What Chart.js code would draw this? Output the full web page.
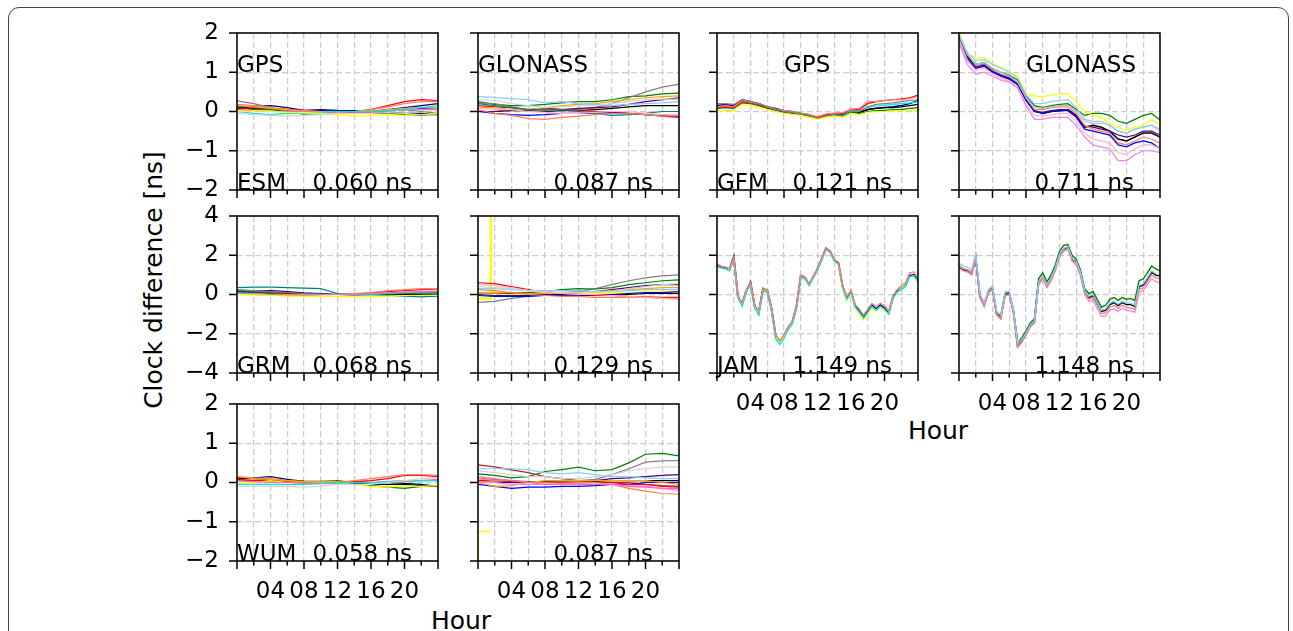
<!DOCTYPE html>
<html>
<head>
<meta charset="utf-8">
<script src="https://cdn.jsdelivr.net/npm/chart.js@4.4.1/dist/chart.umd.min.js"></script>
<style>
body { margin: 0; background: #fff; font-family: 'DejaVu Sans', sans-serif; }
#fig { position: relative; width: 1293px; height: 631px; overflow: hidden; background: #fff; }
#frame { position: absolute; left: 8px; top: 7px; width: 1279px; height: 680px; border: 1.5px solid #444; border-radius: 11px; }
canvas { position: absolute; }
.lbl { position: absolute; font-size: 25px; color: #000; white-space: nowrap; transform: translate(-50%, -50%); }
#ylab { left: 153px; top: 280px; transform: translate(-50%, -50%) rotate(-90deg); }
#xlab1 { left: 461px; top: 620px; }
#xlab2 { left: 938px; top: 430px; }
</style>
</head>
<body>
<div id="fig">
  <div id="frame"></div>
  <div class="lbl" id="ylab">Clock difference [ns]</div>
  <div class="lbl" id="xlab1">Hour</div>
  <div class="lbl" id="xlab2">Hour</div>
</div>
<script>
// hours of day
var hours2 = [0, 2, 4, 6, 8, 10, 12, 14, 16, 18, 20, 22, 24];
var hours1 = [0, 1, 2, 3, 4, 5, 6, 7, 8, 9, 10, 11, 12, 13, 14, 15, 16, 17, 18, 19, 20, 21, 22, 23, 24];
var hoursHalf = [0, 0.5, 1, 1.5, 2, 2.5, 3, 3.5, 4, 4.5, 5, 5.5, 6, 6.5, 7, 7.5, 8, 8.5, 9, 9.5, 10, 10.5, 11, 11.5,
  12, 12.5, 13, 13.5, 14, 14.5, 15, 15.5, 16, 16.5, 17, 17.5, 18, 18.5, 19, 19.5, 20, 20.5, 21, 21.5, 22, 22.5, 23, 23.5, 24];
var xTickLabels = ['04', '08', '12', '16', '20'];
var rmsLabels = ['0.060 ns', '0.087 ns', '0.121 ns', '0.711 ns', '0.068 ns', '0.129 ns', '1.149 ns', '1.148 ns', '0.058 ns', '0.087 ns'];

// ESM GPS
var esmGpsLightgray = [-0.05, -0.08, -0.1, -0.12, -0.1, -0.08, -0.05, -0.05, -0.05, -0.03, -0.05, -0.08, -0.1];
var esmGpsYellow = [0.0, 0.02, 0.0, -0.02, -0.03, -0.05, -0.08, -0.12, -0.1, -0.08, -0.1, -0.08, -0.05];
var esmGpsCyan = [0.0, -0.05, -0.08, -0.05, -0.05, -0.02, 0.0, 0.0, 0.0, 0.02, 0.05, 0.1, 0.15];
var esmGpsPink = [0.05, 0.02, 0.0, 0.0, 0.0, -0.03, -0.05, -0.05, -0.03, 0.0, 0.05, 0.05, 0.05];
var esmGpsOrange = [0.15, 0.12, 0.08, 0.05, 0.02, 0.0, 0.0, 0.0, 0.02, 0.05, 0.08, 0.1, 0.1];
var esmGpsSalmon = [0.18, 0.15, 0.1, 0.05, 0.0, 0.0, -0.02, 0.0, 0.05, 0.12, 0.2, 0.25, 0.25];
var esmGpsRed = [0.05, 0.1, 0.08, 0.05, 0.02, 0.0, -0.02, 0.0, 0.05, 0.15, 0.25, 0.3, 0.28];
var esmGpsGreen = [0.1, 0.05, 0.05, 0.0, 0.0, 0.0, -0.02, -0.05, -0.05, -0.05, -0.08, -0.1, -0.08];
var esmGpsGray = [0.27, 0.2, 0.1, 0.02, -0.08, -0.06, -0.05, -0.03, 0.0, 0.05, 0.05, 0.0, -0.05];
var esmGpsBlue = [0.1, 0.1, 0.08, 0.05, 0.03, 0.02, 0.0, -0.02, 0.0, 0.02, 0.05, 0.08, 0.1];
var esmGpsBlack = [0.08, 0.08, 0.07, 0.05, 0.02, 0.02, 0.0, -0.02, -0.03, -0.03, -0.05, -0.05, -0.08];
var esmGpsNavy = [0.12, 0.13, 0.15, 0.1, 0.03, 0.05, 0.03, 0.02, 0.0, 0.05, 0.1, 0.15, 0.2];

// ESM GLONASS
var esmGloLightgray = [0.3, 0.28, 0.2, 0.15, 0.1, 0.12, 0.15, 0.15, 0.2, 0.25, 0.3, 0.32, 0.3];
var esmGloSkyblue = [0.38, 0.36, 0.33, 0.3, 0.22, 0.25, 0.2, 0.18, 0.15, 0.18, 0.2, 0.22, 0.25];
var esmGloPink = [0.1, 0.05, 0.05, 0.0, -0.02, -0.05, -0.05, -0.02, 0.0, 0.0, -0.05, -0.08, -0.08];
var esmGloCoral = [0.05, -0.05, -0.1, -0.18, -0.2, -0.15, -0.12, -0.08, -0.05, -0.05, -0.08, -0.12, -0.1];
var esmGloTeal = [0.2, 0.15, 0.1, 0.05, 0.05, 0.05, 0.0, -0.05, -0.1, -0.08, -0.05, 0.0, 0.0];
var esmGloOrange = [0.1, 0.1, 0.05, 0.05, 0.1, 0.15, 0.18, 0.2, 0.25, 0.3, 0.35, 0.38, 0.4];
var esmGloBlue = [0.0, -0.05, -0.08, -0.1, -0.08, -0.05, -0.05, -0.05, -0.03, -0.05, -0.08, -0.1, -0.12];
var esmGloRed = [0.15, 0.12, 0.1, 0.05, 0.08, 0.05, 0.02, 0.0, -0.02, -0.05, -0.08, -0.12, -0.15];
var esmGloPurple = [0.0, 0.0, 0.05, 0.05, 0.08, 0.05, 0.08, 0.1, 0.12, 0.18, 0.25, 0.3, 0.35];
var esmGloGray = [0.22, 0.2, 0.12, 0.05, 0.03, 0.05, 0.05, 0.1, 0.2, 0.35, 0.5, 0.62, 0.7];
var esmGloBlack = [0.0, 0.0, 0.02, 0.03, 0.0, 0.02, 0.02, 0.05, 0.08, 0.12, 0.15, 0.15, 0.15];
var esmGloGreen = [0.25, 0.18, 0.15, 0.15, 0.18, 0.22, 0.25, 0.25, 0.3, 0.38, 0.4, 0.45, 0.47];

// GFM GPS
var gfmGpsYellow = [0.0, 0.02, 0.02, 0.18, 0.15, 0.1, 0.05, 0.0, -0.05, -0.08, -0.1, -0.15, -0.2, -0.15, -0.12, -0.15, -0.05, -0.08, -0.02, 0.0, 0.0, 0.02, 0.02, 0.03, 0.05];
var gfmGpsGray = [0.2, 0.2, 0.18, 0.3, 0.26, 0.2, 0.12, 0.06, 0.0, -0.03, -0.06, -0.1, -0.18, -0.12, -0.1, -0.12, 0.0, 0.0, 0.12, 0.18, 0.2, 0.22, 0.25, 0.28, 0.3];
var gfmGpsSalmon = [0.12, 0.15, 0.12, 0.28, 0.24, 0.2, 0.12, 0.06, 0.02, 0.0, -0.05, -0.08, -0.13, -0.06, -0.04, -0.03, 0.06, 0.08, 0.25, 0.25, 0.28, 0.3, 0.3, 0.33, 0.38];
var gfmGpsRed = [0.1, 0.12, 0.1, 0.25, 0.22, 0.18, 0.1, 0.05, 0.0, -0.02, -0.05, -0.1, -0.15, -0.08, -0.05, -0.05, 0.05, 0.05, 0.2, 0.25, 0.28, 0.3, 0.32, 0.35, 0.42];
var gfmGpsCyan = [0.1, 0.14, 0.12, 0.26, 0.22, 0.18, 0.12, 0.06, 0.02, 0.0, -0.04, -0.08, -0.14, -0.08, -0.06, -0.06, 0.02, 0.02, 0.1, 0.14, 0.16, 0.18, 0.2, 0.22, 0.25];
var gfmGpsGreen = [0.08, 0.1, 0.08, 0.22, 0.2, 0.15, 0.08, 0.03, -0.02, -0.05, -0.08, -0.12, -0.18, -0.1, -0.08, -0.1, -0.02, -0.05, 0.0, 0.02, 0.03, 0.05, 0.05, 0.08, 0.1];
var gfmGpsBlack = [0.12, 0.15, 0.12, 0.27, 0.22, 0.17, 0.1, 0.05, 0.0, -0.03, -0.06, -0.1, -0.17, -0.1, -0.08, -0.08, 0.0, -0.02, 0.05, 0.08, 0.1, 0.1, 0.12, 0.15, 0.18];
var gfmGpsNavy = [0.15, 0.18, 0.15, 0.3, 0.25, 0.2, 0.12, 0.08, 0.02, 0.0, -0.05, -0.08, -0.15, -0.1, -0.08, -0.1, 0.0, -0.02, 0.05, 0.08, 0.1, 0.12, 0.15, 0.2, 0.28];

// GFM GLONASS
var gfmGloViolet = [1.75, 1.2, 0.95, 1.0, 0.9, 0.8, 0.75, 0.6, 0.15, -0.2, -0.2, -0.15, -0.15, -0.15, -0.35, -0.65, -0.85, -0.9, -0.95, -1.25, -1.25, -1.1, -1.0, -1.0, -1.05];
var gfmGloPink = [1.85, 1.3, 1.05, 1.1, 0.95, 0.85, 0.78, 0.62, 0.2, -0.1, -0.12, -0.08, -0.05, -0.05, -0.25, -0.55, -0.7, -0.75, -0.8, -1.05, -1.1, -0.95, -0.85, -0.85, -0.95];
var gfmGloSkyblue = [1.95, 1.5, 1.3, 1.32, 1.2, 1.1, 1.0, 0.85, 0.42, 0.2, 0.2, 0.25, 0.28, 0.3, 0.1, -0.2, -0.25, -0.25, -0.35, -0.5, -0.55, -0.45, -0.4, -0.35, -0.5];
var gfmGloGray = [1.95, 1.45, 1.2, 1.25, 1.1, 1.0, 0.9, 0.75, 0.35, 0.1, 0.08, 0.12, 0.15, 0.15, 0.0, -0.25, -0.3, -0.3, -0.35, -0.5, -0.55, -0.45, -0.4, -0.35, -0.45];
var gfmGloBlue = [1.9, 1.35, 1.12, 1.18, 1.02, 0.92, 0.85, 0.7, 0.3, 0.0, -0.05, 0.0, 0.02, 0.02, -0.15, -0.45, -0.5, -0.55, -0.6, -0.85, -0.9, -0.8, -0.75, -0.8, -0.95];
var gfmGloSalmon = [1.9, 1.35, 1.15, 1.2, 1.05, 0.95, 0.88, 0.72, 0.32, 0.05, 0.05, 0.1, 0.12, 0.12, -0.05, -0.35, -0.45, -0.5, -0.55, -0.8, -0.85, -0.75, -0.65, -0.7, -0.8];
var gfmGloIndigo = [1.85, 1.3, 1.1, 1.15, 1.0, 0.9, 0.82, 0.68, 0.28, 0.0, -0.02, 0.02, 0.05, 0.05, -0.12, -0.38, -0.4, -0.45, -0.5, -0.6, -0.65, -0.6, -0.5, -0.5, -0.6];
var gfmGloYellow = [2.0, 1.5, 1.35, 1.38, 1.22, 1.12, 1.02, 0.9, 0.45, 0.4, 0.38, 0.42, 0.45, 0.45, 0.25, 0.0, -0.1, -0.15, -0.3, -0.4, -0.48, -0.4, -0.35, -0.2, -0.35];
var gfmGloGreen = [2.0, 1.45, 1.2, 1.25, 1.1, 1.0, 0.92, 0.8, 0.4, 0.15, 0.1, 0.15, 0.18, 0.2, 0.05, -0.1, -0.05, -0.05, -0.1, -0.25, -0.3, -0.2, -0.1, -0.05, -0.22];
var gfmGloBlack = [1.95, 1.4, 1.15, 1.2, 1.05, 0.92, 0.85, 0.7, 0.3, 0.02, -0.05, 0.0, 0.02, 0.05, -0.1, -0.4, -0.35, -0.4, -0.5, -0.7, -0.75, -0.65, -0.55, -0.55, -0.65];

// GRM GPS
var grmGpsYellow = [0.0, -0.02, -0.05, -0.08, -0.1, -0.1, -0.1, -0.12, -0.1, -0.08, -0.05, -0.05, -0.05];
var grmGpsPink = [0.02, 0.0, -0.05, -0.05, -0.05, -0.02, 0.0, 0.0, 0.05, 0.1, 0.12, 0.15, 0.18];
var grmGpsCyan = [0.1, 0.05, 0.0, -0.05, -0.05, 0.0, 0.0, 0.0, 0.02, 0.05, 0.1, 0.12, 0.15];
var grmGpsSalmon = [0.05, 0.05, 0.0, 0.0, 0.0, 0.0, 0.0, 0.05, 0.1, 0.2, 0.25, 0.3, 0.3];
var grmGpsRed = [0.05, 0.08, 0.05, 0.02, 0.0, 0.0, 0.0, 0.02, 0.08, 0.15, 0.2, 0.25, 0.28];
var grmGpsGray = [0.25, 0.2, 0.15, 0.1, 0.05, 0.02, 0.0, -0.02, 0.0, 0.05, 0.1, 0.12, 0.15];
var grmGpsGreen = [0.2, 0.15, 0.12, 0.1, 0.05, 0.0, 0.0, -0.02, 0.0, 0.02, 0.05, 0.08, 0.1];
var grmGpsBlack = [0.1, 0.1, 0.08, 0.05, 0.03, 0.02, 0.0, 0.0, 0.0, 0.0, 0.0, -0.02, -0.03];
var grmGpsTeal = [0.35, 0.38, 0.38, 0.35, 0.32, 0.3, 0.05, 0.0, -0.02, -0.05, -0.08, -0.12, -0.08];
var grmGpsNavy = [0.15, 0.18, 0.2, 0.15, 0.08, 0.05, 0.0, 0.0, 0.02, 0.05, 0.08, 0.1, 0.08];

// GRM GLONASS
var grmGloLightgray = [0.4, 0.35, 0.3, 0.2, 0.15, 0.1, 0.1, 0.1, 0.15, 0.3, 0.4, 0.5, 0.55];
var grmGloSkyblue = [0.3, 0.3, 0.25, 0.2, 0.2, 0.2, 0.2, 0.15, 0.15, 0.2, 0.25, 0.25, 0.25];
var grmGloSalmon = [0.5, 0.45, 0.35, 0.2, 0.1, 0.05, 0.0, 0.0, -0.05, -0.1, -0.15, -0.2, -0.25];
var grmGloCoral = [0.25, 0.2, 0.1, 0.0, -0.05, -0.1, -0.1, -0.15, -0.15, -0.15, -0.15, -0.2, -0.2];
var grmGloOrange = [0.1, 0.1, 0.1, 0.05, 0.05, 0.1, 0.1, 0.15, 0.2, 0.25, 0.3, 0.35, 0.35];
var grmGloBlue = [-0.05, -0.1, -0.1, -0.1, -0.05, -0.05, -0.05, 0.0, 0.0, 0.05, 0.1, 0.1, 0.15];
var grmGloRed = [0.6, 0.55, 0.4, 0.25, 0.1, 0.05, 0.0, -0.05, -0.05, -0.1, -0.12, -0.15, -0.15];
var grmGloPurple = [0.0, -0.05, -0.05, -0.05, 0.0, 0.05, 0.1, 0.15, 0.25, 0.35, 0.45, 0.5, 0.5];
var grmGloGreen = [0.1, 0.1, 0.1, 0.1, 0.15, 0.25, 0.3, 0.28, 0.35, 0.5, 0.6, 0.7, 0.75];
var grmGloGray = [-0.4, -0.35, -0.2, -0.1, 0.0, 0.1, 0.15, 0.3, 0.5, 0.7, 0.85, 0.95, 1.0];
var grmGloBlack = [0.1, 0.1, 0.05, 0.05, 0.0, 0.0, -0.05, -0.05, 0.0, 0.0, 0.05, 0.05, 0.05];
var grmGloSpikeHours = [0, 1.45, 1.5, 1.55, 2, 4, 6, 8, 10, 12, 14, 16, 18, 20, 22, 24];
var grmGloSpike = [-0.2, -0.2, 6, 0.1, 0.1, 0.05, 0.0, 0.0, 0.05, 0.05, 0.0, 0.05, 0.05, 0.1, 0.1, 0.1];

// JAM GPS
var jamGpsSalmon = [1.55, 1.45, 1.4, 1.3, 1.85, -0.05, -0.45, 0.25, 0.6, -0.55, -0.85, 0.3, 0.25, -0.65, -2.05, -2.35, -2.05, -1.65, -1.35, -0.55, 1.0, 0.9, 0.55, 0.95,
  1.35, 1.85, 2.35, 2.2, 1.8, 1.65, 0.45, -0.1, 0.2, -0.5, -0.75, -1.05, -0.75, -0.45, -0.6, -0.45, -0.55, -0.85, -0.05, 0.25, 0.45, 0.6, 1.1, 1.15, 0.85];
var jamGpsCyan = [1.4, 1.35, 1.3, 1.2, 1.8, -0.2, -0.6, 0.1, 0.5, -0.7, -1.05, 0.2, 0.1, -0.8, -2.25, -2.55, -2.25, -1.8, -1.5, -0.7, 0.9, 0.8, 0.45, 0.85,
  1.25, 1.75, 2.3, 2.15, 1.7, 1.55, 0.35, -0.25, 0.1, -0.65, -0.9, -1.2, -0.9, -0.6, -0.8, -0.6, -0.75, -1.0, -0.2, 0.1, 0.25, 0.4, 0.9, 0.95, 0.65];
var jamGpsYellow = [1.45, 1.35, 1.3, 1.25, 1.85, -0.15, -0.55, 0.15, 0.55, -0.65, -0.95, 0.25, 0.15, -0.75, -2.15, -2.45, -2.15, -1.75, -1.45, -0.65, 0.9, 0.8, 0.45, 0.85,
  1.25, 1.75, 2.3, 2.15, 1.7, 1.5, 0.3, -0.3, 0.05, -0.7, -1.0, -1.3, -1.0, -0.7, -0.85, -0.65, -0.8, -1.0, -0.2, 0.1, 0.3, 0.45, 0.9, 0.95, 0.6];
var jamGpsNavy = [1.48, 1.4, 1.35, 1.28, 1.9, -0.1, -0.5, 0.2, 0.6, -0.6, -0.9, 0.3, 0.2, -0.7, -2.1, -2.4, -2.1, -1.7, -1.4, -0.6, 0.95, 0.85, 0.5, 0.9,
  1.3, 1.8, 2.35, 2.2, 1.75, 1.6, 0.4, -0.2, 0.15, -0.6, -0.85, -1.15, -0.85, -0.55, -0.75, -0.55, -0.7, -0.95, -0.15, 0.15, 0.3, 0.45, 0.95, 1.0, 0.7];

// JAM GLONASS
var jamGloSkyblue = [1.6, 1.45, 1.4, 1.25, 2.1, 0.05, -0.4, 0.25, 0.45, -0.85, -1.05, 0.15, 0.15, -0.75, -2.5, -2.3, -1.95, -1.55, -1.35, 0.65, 0.95, 0.5, 0.85, 1.35,
  2.05, 2.35, 2.45, 1.85, 1.7, 1.15, 0.2, -0.1, 0.0, -0.4, -0.8, -0.75, -0.45, -0.35, -0.5, -0.35, -0.45, -0.45, -0.55, 0.45, 0.55, 0.85, 1.2, 1.05, 1.0];
var jamGloSalmon = [1.45, 1.3, 1.25, 1.1, 1.85, -0.1, -0.5, 0.1, 0.3, -1.0, -1.25, -0.05, 0.0, -0.9, -2.7, -2.45, -2.05, -1.65, -1.45, 0.55, 0.85, 0.4, 0.75, 1.25,
  1.95, 2.25, 2.35, 1.75, 1.6, 1.05, 0.1, -0.25, -0.15, -0.55, -0.95, -0.95, -0.65, -0.55, -0.7, -0.55, -0.65, -0.7, -0.75, 0.25, 0.35, 0.65, 1.0, 0.85, 0.8];
var jamGloViolet = [1.35, 1.2, 1.15, 1.0, 1.8, -0.15, -0.6, 0.05, 0.25, -1.05, -1.25, -0.05, 0.0, -0.9, -2.65, -2.4, -2.05, -1.65, -1.45, 0.5, 0.8, 0.35, 0.7, 1.2,
  1.9, 2.2, 2.3, 1.7, 1.5, 0.95, 0.0, -0.35, -0.3, -0.7, -1.1, -1.1, -0.8, -0.75, -0.85, -0.7, -0.8, -0.85, -0.9, 0.1, 0.2, 0.5, 0.8, 0.65, 0.6];
var jamGloGreen = [1.45, 1.3, 1.25, 1.1, 1.9, -0.05, -0.5, 0.15, 0.35, -0.95, -1.15, 0.05, 0.1, -0.8, -2.5, -2.2, -1.85, -1.45, -1.25, 0.8, 1.1, 0.65, 1.0, 1.5,
  2.2, 2.5, 2.55, 2.0, 1.8, 1.25, 0.3, 0.05, 0.15, -0.25, -0.65, -0.55, -0.25, -0.15, -0.3, -0.15, -0.25, -0.2, -0.3, 0.7, 0.8, 1.1, 1.45, 1.3, 1.2];
var jamGloBlack = [1.4, 1.25, 1.2, 1.05, 1.85, -0.1, -0.55, 0.1, 0.3, -1.0, -1.1, 0.0, 0.05, -0.85, -2.6, -2.35, -2.0, -1.6, -1.4, 0.6, 0.9, 0.45, 0.8, 1.3,
  2.0, 2.3, 2.4, 1.8, 1.65, 1.1, 0.15, -0.15, -0.05, -0.45, -0.85, -0.8, -0.5, -0.4, -0.55, -0.4, -0.5, -0.5, -0.6, 0.4, 0.5, 0.8, 1.15, 1.0, 0.95];

// WUM GPS
var wumGpsGray = [-0.1, -0.1, -0.1, -0.1, -0.12, -0.1, -0.05, -0.05, -0.05, 0.0, 0.05, 0.1, 0.12];
var wumGpsCyan = [-0.05, -0.05, -0.05, -0.05, -0.05, -0.03, 0.0, 0.0, 0.0, 0.02, 0.05, 0.05, 0.05];
var wumGpsPink = [0.05, 0.02, 0.0, 0.0, -0.02, -0.03, -0.02, 0.0, 0.0, 0.02, 0.05, 0.05, 0.08];
var wumGpsOrange = [0.15, 0.1, 0.08, 0.05, 0.02, 0.02, 0.02, 0.0, 0.0, 0.0, 0.02, 0.05, 0.05];
var wumGpsYellow = [0.0, 0.0, 0.05, 0.0, -0.02, -0.02, -0.03, -0.05, -0.1, -0.12, -0.08, -0.1, -0.08];
var wumGpsSalmon = [0.15, 0.12, 0.1, 0.05, 0.02, 0.0, 0.0, 0.05, 0.1, 0.15, 0.2, 0.2, 0.18];
var wumGpsRed = [0.08, 0.05, 0.05, 0.02, 0.02, 0.0, 0.0, 0.02, 0.05, 0.1, 0.18, 0.18, 0.15];
var wumGpsGreen = [0.05, 0.05, 0.05, 0.02, 0.0, 0.02, 0.05, 0.0, -0.08, -0.12, -0.15, -0.1, -0.08];
var wumGpsBlack = [0.1, 0.1, 0.08, 0.05, 0.03, 0.02, 0.0, -0.02, -0.05, -0.05, -0.05, -0.08, -0.1];
var wumGpsNavy = [0.12, 0.12, 0.15, 0.08, 0.03, 0.03, 0.02, 0.02, 0.0, 0.0, -0.02, -0.05, -0.1];

// WUM GLONASS
var wumGloSilver = [0.3, 0.25, 0.2, 0.15, 0.15, 0.1, 0.1, 0.15, 0.2, 0.3, 0.35, 0.4, 0.4];
var wumGloSkyblue = [0.35, 0.35, 0.35, 0.32, 0.25, 0.22, 0.25, 0.2, 0.15, 0.15, 0.12, 0.1, 0.1];
var wumGloPink = [0.15, 0.1, 0.05, 0.0, -0.05, -0.05, -0.05, -0.05, -0.05, -0.1, -0.12, -0.15, -0.15];
var wumGloViolet = [0.0, 0.0, -0.05, -0.05, -0.05, -0.05, -0.02, -0.05, -0.05, -0.08, -0.1, -0.15, -0.2];
var wumGloCoral = [0.1, 0.05, 0.05, 0.0, 0.0, -0.02, 0.0, 0.0, -0.05, -0.15, -0.22, -0.28, -0.3];
var wumGloOrange = [0.0, -0.1, -0.08, 0.0, 0.05, 0.05, 0.05, 0.05, 0.05, 0.05, 0.05, 0.0, -0.05];
var wumGloRed = [0.05, 0.05, 0.05, 0.0, 0.0, 0.0, 0.0, 0.0, 0.0, -0.05, -0.05, -0.1, -0.12];
var wumGloBlue = [-0.05, -0.1, -0.15, -0.12, -0.12, -0.1, -0.1, -0.08, -0.05, -0.05, 0.0, 0.0, 0.0];
var wumGloDarkred = [0.45, 0.4, 0.32, 0.25, 0.15, 0.1, 0.05, 0.0, 0.0, 0.0, -0.05, -0.08, -0.1];
var wumGloPurple = [0.0, 0.0, 0.0, 0.0, 0.02, 0.05, 0.05, 0.05, 0.1, 0.12, 0.15, 0.18, 0.2];
var wumGloGray = [0.1, 0.08, 0.05, 0.02, 0.0, 0.02, 0.05, 0.08, 0.2, 0.35, 0.52, 0.55, 0.56];
var wumGloBlack = [0.05, 0.05, 0.03, 0.02, 0.03, 0.05, 0.05, 0.03, 0.05, 0.05, 0.05, 0.05, 0.05];
var wumGloGreen = [0.22, 0.18, 0.12, 0.15, 0.28, 0.33, 0.39, 0.3, 0.33, 0.5, 0.72, 0.74, 0.68];
var wumGloYellowHours = [0, 0.05, 1.5];
var wumGloYellow = [-1.95, -1.25, -1.25];

function line(hours, vals, color, width) {
  return {
    data: hours.map(function(h, i) { return { x: h, y: vals[i] }; }),
    borderColor: color,
    borderWidth: width || 1.2,
    pointRadius: 0,
    tension: 0,
    fill: false
  };
}

// axes frame, outward ticks and the in-panel notes
var framePlugin = {
  id: 'frame',
  afterDatasetsDraw: function(chart, args, opts) {
    var ctx = chart.ctx, a = chart.chartArea, xs = chart.scales.x, ys = chart.scales.y;
    ctx.save();
    ctx.strokeStyle = '#000';
    ctx.lineWidth = 1.5;
    ctx.beginPath();
    xs.ticks.forEach(function(t) {
      var px = xs.getPixelForValue(t.value);
      var len = t.value % 4 === 0 ? 8 : 4.5;
      ctx.moveTo(px, a.bottom);
      ctx.lineTo(px, a.bottom + len);
    });
    ys.ticks.forEach(function(t) {
      var py = ys.getPixelForValue(t.value);
      ctx.moveTo(a.left - 8, py);
      ctx.lineTo(a.left, py);
    });
    ctx.stroke();
    ctx.strokeRect(a.left, a.top, a.right - a.left, a.bottom - a.top);
    ctx.fillStyle = '#000';
    ctx.font = "23px 'DejaVu Sans'";
    ctx.textBaseline = 'alphabetic';
    ctx.textAlign = 'left';
    (opts.notes || []).forEach(function(n) {
      ctx.fillText(n.text, xs.getPixelForValue(n.x), ys.getPixelForValue(n.y));
    });
    ctx.restore();
  }
};

var C = {
  red: '#ff0000', navy: '#000080', salmon: '#fa8072', cyan: '#00e5ee', green: '#008000', yellow: '#ffff00',
  gray: '#808080', black: '#000000', orange: '#ffa500', lightgray: '#d3d3d3', pink: '#ff69b4', blue: '#0000ff',
  skyblue: '#87cefa', coral: '#ff7f50', purple: '#800080', indigo: '#4b0082', teal: '#008080', darkred: '#a52a2a',
  violet: '#ee82ee', silver: '#c0c0c0', lightpink: '#ffb6c1'
};

var colX = [237, 478, 717, 959];
var rowY = [33, 216, 404];
var panelW = 201, panelH = 157;

var panels = [
  { col: 0, row: 0, yMin: -2, yMax: 2, step: 1, showY: true, showX: false,
    notes: [{ text: 'GPS', x: 0, y: 1 }, { text: 'ESM', x: 0, y: -2 }, { text: rmsLabels[0], x: 9, y: -2 }],
    sets: [line(hours2, esmGpsLightgray, C.lightgray), line(hours2, esmGpsYellow, C.yellow), line(hours2, esmGpsCyan, C.cyan),
      line(hours2, esmGpsPink, C.pink), line(hours2, esmGpsOrange, C.orange), line(hours2, esmGpsSalmon, C.salmon),
      line(hours2, esmGpsRed, C.red), line(hours2, esmGpsGreen, C.green), line(hours2, esmGpsGray, C.gray),
      line(hours2, esmGpsBlue, C.blue), line(hours2, esmGpsBlack, C.black), line(hours2, esmGpsNavy, C.navy)] },
  { col: 1, row: 0, yMin: -2, yMax: 2, step: 1, showY: false, showX: false,
    notes: [{ text: 'GLONASS', x: 0, y: 1 }, { text: rmsLabels[1], x: 9, y: -2 }],
    sets: [line(hours2, esmGloLightgray, C.lightgray), line(hours2, esmGloSkyblue, C.skyblue), line(hours2, esmGloPink, C.lightpink),
      line(hours2, esmGloCoral, C.coral), line(hours2, esmGloTeal, C.teal), line(hours2, esmGloOrange, C.orange),
      line(hours2, esmGloBlue, C.blue), line(hours2, esmGloRed, C.red), line(hours2, esmGloPurple, C.indigo),
      line(hours2, esmGloGray, C.gray), line(hours2, esmGloBlack, C.black), line(hours2, esmGloGreen, C.green)] },
  { col: 2, row: 0, yMin: -2, yMax: 2, step: 1, showY: false, showX: false,
    notes: [{ text: 'GPS', x: 8, y: 1 }, { text: 'GFM', x: 0, y: -2 }, { text: rmsLabels[2], x: 9, y: -2 }],
    sets: [line(hours1, gfmGpsYellow, C.yellow), line(hours1, gfmGpsGray, C.gray), line(hours1, gfmGpsSalmon, C.salmon),
      line(hours1, gfmGpsRed, C.red), line(hours1, gfmGpsCyan, C.cyan), line(hours1, gfmGpsGreen, C.green),
      line(hours1, gfmGpsBlack, C.black), line(hours1, gfmGpsNavy, C.navy, 1.5)] },
  { col: 3, row: 0, yMin: -2, yMax: 2, step: 1, showY: false, showX: false,
    notes: [{ text: 'GLONASS', x: 8, y: 1 }, { text: rmsLabels[3], x: 9, y: -2 }],
    sets: [line(hours1, gfmGloViolet, C.violet), line(hours1, gfmGloPink, C.lightpink), line(hours1, gfmGloSkyblue, C.skyblue),
      line(hours1, gfmGloGray, C.silver), line(hours1, gfmGloBlue, C.blue), line(hours1, gfmGloSalmon, C.salmon),
      line(hours1, gfmGloIndigo, C.indigo), line(hours1, gfmGloYellow, C.yellow), line(hours1, gfmGloGreen, C.green),
      line(hours1, gfmGloBlack, C.black, 1.5)] },
  { col: 0, row: 1, yMin: -4, yMax: 4, step: 2, showY: true, showX: false,
    notes: [{ text: 'GRM', x: 0, y: -4 }, { text: rmsLabels[4], x: 9, y: -4 }],
    sets: [line(hours2, grmGpsYellow, C.yellow), line(hours2, grmGpsPink, C.pink), line(hours2, grmGpsCyan, C.cyan),
      line(hours2, grmGpsSalmon, C.salmon), line(hours2, grmGpsRed, C.red), line(hours2, grmGpsGray, C.gray),
      line(hours2, grmGpsGreen, C.green), line(hours2, grmGpsBlack, C.black), line(hours2, grmGpsTeal, C.teal),
      line(hours2, grmGpsNavy, C.navy)] },
  { col: 1, row: 1, yMin: -4, yMax: 4, step: 2, showY: false, showX: false,
    notes: [{ text: rmsLabels[5], x: 9, y: -4 }],
    sets: [line(hours2, grmGloLightgray, C.lightgray), line(hours2, grmGloSkyblue, C.skyblue), line(hours2, grmGloSalmon, C.lightpink),
      line(hours2, grmGloCoral, C.coral), line(hours2, grmGloOrange, C.orange), line(hours2, grmGloBlue, C.blue),
      line(hours2, grmGloRed, C.red), line(hours2, grmGloPurple, C.indigo), line(hours2, grmGloGreen, C.green),
      line(hours2, grmGloGray, C.gray), line(hours2, grmGloBlack, C.black),
      line(grmGloSpikeHours, grmGloSpike, C.yellow, 2.5)] },
  { col: 2, row: 1, yMin: -4, yMax: 4, step: 2, showY: false, showX: true,
    notes: [{ text: 'JAM', x: 0, y: -4 }, { text: rmsLabels[6], x: 9, y: -4 }],
    sets: [line(hoursHalf, jamGpsSalmon, C.salmon, 1.3), line(hoursHalf, jamGpsCyan, C.cyan, 1.3),
      line(hoursHalf, jamGpsYellow, C.yellow, 1.3), line(hoursHalf, jamGpsNavy, C.navy, 1.9)] },
  { col: 3, row: 1, yMin: -4, yMax: 4, step: 2, showY: false, showX: true,
    notes: [{ text: rmsLabels[7], x: 9, y: -4 }],
    sets: [line(hoursHalf, jamGloSkyblue, C.skyblue, 1.3), line(hoursHalf, jamGloSalmon, C.salmon, 1.3),
      line(hoursHalf, jamGloViolet, C.violet, 1.3), line(hoursHalf, jamGloGreen, C.green, 1.4),
      line(hoursHalf, jamGloBlack, C.black, 1.8)] },
  { col: 0, row: 2, yMin: -2, yMax: 2, step: 1, showY: true, showX: true,
    notes: [{ text: 'WUM', x: 0, y: -2 }, { text: rmsLabels[8], x: 9, y: -2 }],
    sets: [line(hours2, wumGpsGray, C.lightgray), line(hours2, wumGpsCyan, C.cyan), line(hours2, wumGpsPink, C.pink),
      line(hours2, wumGpsOrange, C.orange), line(hours2, wumGpsYellow, C.yellow), line(hours2, wumGpsSalmon, C.salmon),
      line(hours2, wumGpsRed, C.red), line(hours2, wumGpsGreen, C.green), line(hours2, wumGpsBlack, C.black),
      line(hours2, wumGpsNavy, C.navy)] },
  { col: 1, row: 2, yMin: -2, yMax: 2, step: 1, showY: false, showX: true,
    notes: [{ text: rmsLabels[9], x: 9, y: -2 }],
    sets: [line(hours2, wumGloSilver, C.lightgray), line(hours2, wumGloSkyblue, C.skyblue), line(hours2, wumGloPink, C.pink),
      line(hours2, wumGloViolet, C.violet), line(hours2, wumGloCoral, C.coral), line(hours2, wumGloOrange, C.orange),
      line(hours2, wumGloRed, C.red), line(hours2, wumGloBlue, C.blue), line(hours2, wumGloDarkred, C.darkred),
      line(hours2, wumGloPurple, C.indigo), line(hours2, wumGloGray, C.gray), line(hours2, wumGloBlack, C.black),
      line(hours2, wumGloGreen, C.green), line(wumGloYellowHours, wumGloYellow, C.yellow, 1.5)] }
];

Chart.defaults.font.family = "'DejaVu Sans', sans-serif";
Chart.defaults.font.size = 23;
Chart.defaults.color = '#000';

var fig = document.getElementById('fig');
var gridStyle = { color: '#cdcdcd', lineWidth: 1.3, drawTicks: false };
var borderStyle = { display: false, dash: [6, 3] };

panels.forEach(function(p) {
  // generous margins so the tick label padding never pushes the chart area
  var padL = p.showY ? 80 : 40, padT = 40, padR = 40, padB = p.showX ? 60 : 40;
  var cv = document.createElement('canvas');
  cv.width = panelW + padL + padR;
  cv.height = panelH + padT + padB;
  cv.style.left = (colX[p.col] - padL) + 'px';
  cv.style.top = (rowY[p.row] - padT) + 'px';
  fig.appendChild(cv);

  new Chart(cv.getContext('2d'), {
    type: 'line',
    data: { datasets: p.sets },
    options: {
      responsive: false,
      animation: false,
      events: [],
      layout: { padding: { top: padT, right: padR, left: 0, bottom: 0 } },
      plugins: { legend: { display: false }, tooltip: { enabled: false }, frame: { notes: p.notes } },
      scales: {
        x: {
          type: 'linear', min: 0, max: 24,
          border: borderStyle,
          grid: gridStyle,
          afterFit: function(s) { s.height = padB; },
          ticks: {
            display: p.showX, stepSize: 2, autoSkip: false, maxRotation: 0, minRotation: 0, padding: 17,
            callback: function(v) {
              var i = xTickLabels.indexOf(String(v).padStart(2, '0'));
              return i >= 0 ? xTickLabels[i] : '';
            }
          }
        },
        y: {
          min: p.yMin, max: p.yMax,
          border: borderStyle,
          grid: gridStyle,
          afterFit: function(s) { s.width = padL; },
          ticks: {
            display: p.showY, stepSize: p.step, padding: 18,
            callback: function(v) { return String(v).replace('-', '\u2212'); }
          }
        }
      }
    },
    plugins: [framePlugin]
  });
});
</script>
</body>
</html>
